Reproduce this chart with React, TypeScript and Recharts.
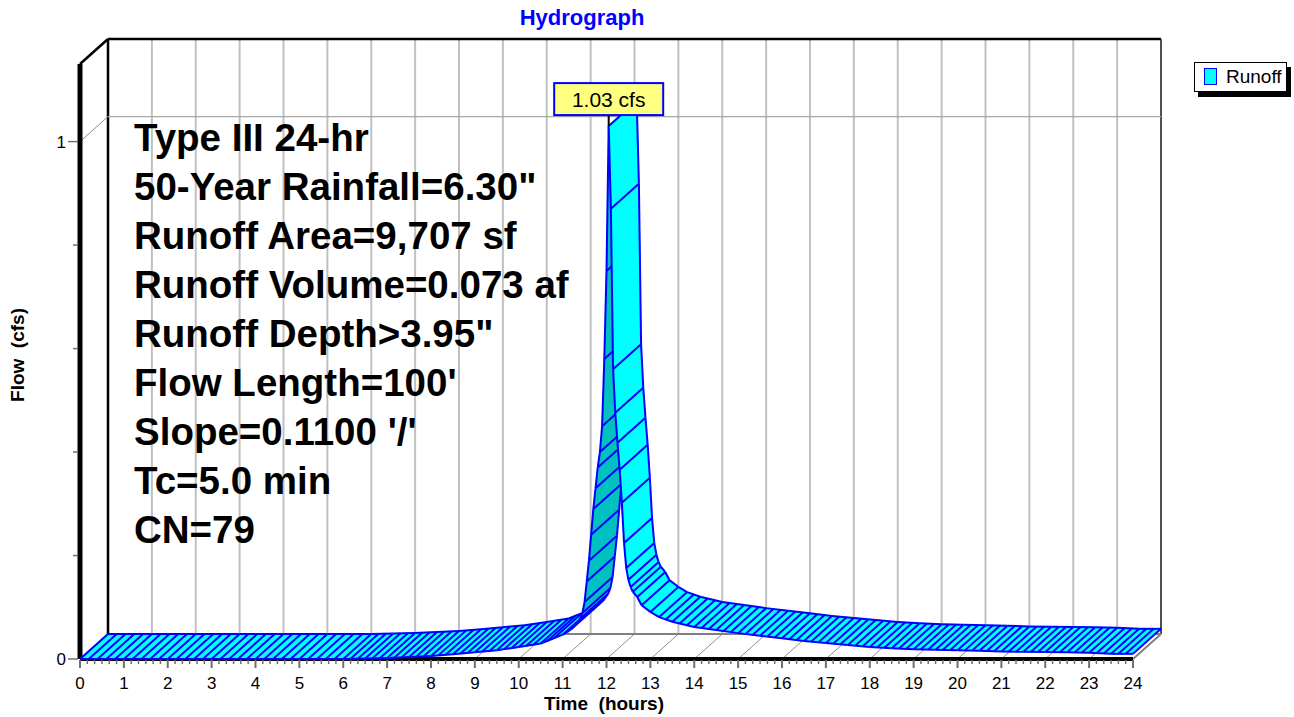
import { ComposedChart, Line, XAxis, YAxis, CartesianGrid } from "recharts"

// Runoff hydrograph (front edge of the ribbon)
const hours = [
  0, 1, 2, 3, 4, 5, 6, 6.5, 7, 7.5, 8, 8.5, 9, 9.5, 10, 10.5, 10.8, 11, 11.1,
  11.2, 11.3, 11.4, 11.45, 11.5, 11.55, 11.6, 11.65, 11.7, 11.75, 11.8, 11.85,
  11.9, 11.95, 12, 12.05, 12.1, 12.15, 12.2, 12.25, 12.3, 12.35, 12.4, 12.45,
  12.5, 12.55, 12.6, 12.7, 12.8, 13, 13.2, 13.5, 14, 14.5, 15, 15.5, 16, 16.5,
  17, 17.5, 18, 18.5, 19, 19.5, 20, 20.5, 21, 21.5, 22, 22.5, 23, 23.5, 24,
]
const flow = [
  0, 0, 0, 0, 0, 0, 0, 0.001, 0.002, 0.004, 0.006, 0.009, 0.013, 0.017, 0.023,
  0.03, 0.04, 0.047, 0.052, 0.058, 0.066, 0.078, 0.089, 0.11, 0.15, 0.19, 0.24,
  0.29, 0.33, 0.37, 0.4, 0.45, 0.58, 0.75, 1.03, 0.87, 0.56, 0.476, 0.418,
  0.366, 0.302, 0.224, 0.176, 0.153, 0.139, 0.13, 0.12, 0.104, 0.091, 0.081,
  0.072, 0.062, 0.056, 0.05, 0.045, 0.04, 0.035, 0.031, 0.027, 0.023, 0.021,
  0.019, 0.018, 0.017, 0.016, 0.0145, 0.0138, 0.0135, 0.013, 0.012, 0.01, 0.01,
]

const majorHours = [
  0, 1, 2, 3, 4, 5, 6, 7, 8, 9, 10, 11, 12, 13, 14, 15, 16, 17, 18, 19, 20, 21,
  22, 23, 24,
]
const minorPerHour = 6
const yTicks = [0, 0.2, 0.4, 0.6, 0.8, 1]
const yLabeled = [0, 1]
const yMax = 1.15

const seriesName = "Runoff"
const peakUnit = "cfs"
const notes = [
  "Type III 24-hr",
  '50-Year Rainfall=6.30"',
  "Runoff Area=9,707 sf",
  "Runoff Volume=0.073 af",
  'Runoff Depth>3.95"',
  "Flow Length=100'",
  "Slope=0.1100 '/'",
  "Tc=5.0 min",
  "CN=79",
]

// 3D depth of the back plane, in pixels
const DX = 28
const DY = -25

const CYAN = "#00FFFF"
const TEAL = "#00C0C0"
const BLUE = "#0000FF"
const FONT = '"Liberation Sans", Arial, sans-serif'

const data = hours.map((h, i) => ({ hour: h, flow: flow[i] }))

const xTicks = majorHours.flatMap((h, i) =>
  i === majorHours.length - 1
    ? [h]
    : Array.from({ length: minorPerHour }, (_, k) => h + k / minorPerHour)
)

const isWhole = (v: number) => Math.abs(v - Math.round(v)) < 1e-6

type Pt = { x: number; y: number }

function renderRibbon(pts: Pt[]) {
  const els: any[] = []
  const conn = (p: Pt, key: string) => (
    <line key={key} x1={p.x} y1={p.y} x2={p.x + DX} y2={p.y + DY} stroke={BLUE} strokeWidth={2} />
  )
  for (let i = 0; i < pts.length - 1; i++) {
    const a = pts[i]
    const b = pts[i + 1]
    // which side of the ribbon faces us
    const cross = (b.x - a.x) * DY - (b.y - a.y) * DX
    const fill = cross > 0 ? TEAL : CYAN
    els.push(
      <polygon
        key={`f${i}`}
        points={`${a.x},${a.y} ${b.x},${b.y} ${b.x + DX},${b.y + DY} ${a.x + DX},${a.y + DY}`}
        fill={fill}
        stroke={fill}
        strokeWidth={0.6}
      />
    )
    els.push(<line key={`a${i}`} x1={a.x} y1={a.y} x2={b.x} y2={b.y} stroke={BLUE} strokeWidth={2} />)
    els.push(
      <line key={`b${i}`} x1={a.x + DX} y1={a.y + DY} x2={b.x + DX} y2={b.y + DY} stroke={BLUE} strokeWidth={2} />
    )
    const n = Math.max(1, Math.round((b.x - a.x) / 8))
    for (let k = 0; k < n; k++) {
      const t = k / n
      els.push(conn({ x: a.x + (b.x - a.x) * t, y: a.y + (b.y - a.y) * t }, `c${i}_${k}`))
    }
  }
  els.push(conn(pts[pts.length - 1], "clast"))
  return els
}

function peakTag(p: Pt) {
  const peak = Math.max(...flow)
  return (
    <g key="peak">
      <line x1={p.x} y1={p.y} x2={p.x} y2={p.y - 11} stroke="#000" strokeWidth={2} />
      <rect x={p.x - 54.5} y={p.y - 43} width={109} height={32} fill="#FFFF80" stroke={BLUE} strokeWidth={2} />
      <text x={p.x} y={p.y - 19.5} textAnchor="middle" fontFamily={FONT} fontSize={21} fill="#000">
        {`${peak.toFixed(2)} ${peakUnit}`}
      </text>
    </g>
  )
}

const collected: Pt[] = []

function RibbonDot(props: any) {
  const { cx, cy, index, points } = props
  collected[index] = { x: cx, y: cy }
  if (index !== data.length - 1) return <g key={`d${index}`} />
  const pts: Pt[] =
    points && points.length === data.length
      ? points.map((p: any) => ({ x: p.x, y: p.y }))
      : collected.slice(0, data.length)
  const peakIdx = flow.indexOf(Math.max(...flow))
  return (
    <g key="ribbon">
      {renderRibbon(pts)}
      {peakTag(pts[peakIdx])}
    </g>
  )
}

function XTick(props: any) {
  const { x, y, payload } = props
  const major = isWhole(payload.value)
  return (
    <g>
      <line x1={x} y1={y + 1} x2={x} y2={y + (major ? 9 : 5)} stroke="#707070" strokeWidth={major ? 2 : 1.5} />
      {major && (
        <text x={x} y={y + 30} textAnchor="middle" fontFamily={FONT} fontSize={17} fill="#000">
          {Math.round(payload.value)}
        </text>
      )}
    </g>
  )
}

function YTick(props: any) {
  const { x, y, payload } = props
  const labeled = yLabeled.includes(payload.value)
  return (
    <g>
      <line x1={x - (labeled ? 12 : 7)} y1={y} x2={x - 2} y2={y} stroke="#707070" strokeWidth={1.5} />
      {labeled && (
        <text x={x - 14} y={y} dy="0.36em" textAnchor="end" fontFamily={FONT} fontSize={17} fill="#000">
          {payload.value}
        </text>
      )}
    </g>
  )
}

const backV = (props: any) => {
  const { x1, y1, x2, y2 } = props
  return (
    <g>
      <line x1={x1 + DX} y1={y1 + DY} x2={x2 + DX} y2={y2 + DY} stroke="#C0C0C0" strokeWidth={2} />
      <line x1={x2} y1={y2} x2={x2 + DX} y2={y2 + DY} stroke="#909090" strokeWidth={1} />
    </g>
  )
}
const backLeft = (props: any) => {
  const { x1, y1, x2, y2 } = props
  return <line x1={x1 + DX} y1={y1 + DY} x2={x2 + DX} y2={y2 + DY} stroke="#000" strokeWidth={2.5} />
}
const backRight = (props: any) => {
  const { x1, y1, x2, y2 } = props
  return (
    <g>
      <line x1={x1 + DX} y1={y1 + DY} x2={x2 + DX} y2={y2 + DY} stroke="#505050" strokeWidth={2} />
      <line x1={x2} y1={y2} x2={x2 + DX} y2={y2 + DY} stroke="#808080" strokeWidth={2} />
    </g>
  )
}
const backH = (props: any) => {
  const { x1, y1, x2, y2 } = props
  return (
    <g>
      <line x1={x1 + DX} y1={y1 + DY} x2={x2 + DX} y2={y2 + DY} stroke="#A8A8A8" strokeWidth={1.2} />
      <line x1={x1} y1={y1} x2={x1 + DX} y2={y1 + DY} stroke="#909090" strokeWidth={1} />
    </g>
  )
}
const backFloor = (props: any) => {
  const { x1, y1, x2, y2 } = props
  return <line x1={x1 + DX} y1={y1 + DY} x2={x2 + DX} y2={y2 + DY} stroke="#808080" strokeWidth={2} />
}
const backTop = (props: any) => {
  const { x1, y1, x2, y2 } = props
  return (
    <g>
      <line x1={x1 + DX} y1={y1 + DY} x2={x2 + DX} y2={y2 + DY} stroke="#000" strokeWidth={2.5} />
      <line x1={x1} y1={y1} x2={x1 + DX} y2={y1 + DY} stroke="#000" strokeWidth={2.5} />
    </g>
  )
}

export default function App() {
  return (
    <div
      style={{
        position: "absolute",
        left: 0,
        top: 0,
        width: 1294,
        height: 717,
        background: "#fff",
        fontFamily: FONT,
      }}
    >
      <ComposedChart
        width={1294}
        height={717}
        data={data}
        margin={{ top: 64, right: 161, bottom: 0, left: 0 }}
      >
        <CartesianGrid horizontal={false} verticalValues={majorHours.slice(1, -1)} vertical={backV} />
        <CartesianGrid horizontal={false} verticalValues={[majorHours[0]]} vertical={backLeft} />
        <CartesianGrid horizontal={false} verticalValues={[majorHours[majorHours.length - 1]]} vertical={backRight} />
        <CartesianGrid vertical={false} horizontalValues={[1]} horizontal={backH} />
        <CartesianGrid vertical={false} horizontalValues={[0]} horizontal={backFloor} />
        <CartesianGrid vertical={false} horizontalValues={[yMax]} horizontal={backTop} />
        <XAxis
          dataKey="hour"
          type="number"
          domain={[0, 24]}
          ticks={xTicks}
          interval={0}
          height={58}
          tickSize={0}
          tickMargin={0}
          tickLine={false}
          axisLine={{ stroke: "#000", strokeWidth: 4 }}
          tick={<XTick />}
        />
        <YAxis
          type="number"
          domain={[0, yMax]}
          ticks={yTicks}
          interval={0}
          width={80}
          tickSize={0}
          tickMargin={0}
          tickLine={false}
          axisLine={{ stroke: "#000", strokeWidth: 5 }}
          tick={<YTick />}
        />
        <Line
          dataKey="flow"
          name={seriesName}
          stroke="transparent"
          strokeWidth={0}
          dot={RibbonDot}
          activeDot={false}
          isAnimationActive={false}
        />
      </ComposedChart>

      <div
        style={{
          position: "absolute",
          left: 582,
          top: 18,
          transform: "translate(-50%, -50%)",
          color: BLUE,
          fontWeight: "bold",
          fontSize: 22,
          whiteSpace: "nowrap",
        }}
      >
        Hydrograph
      </div>
      <div
        style={{
          position: "absolute",
          left: 604,
          top: 704,
          transform: "translate(-50%, -50%)",
          fontWeight: "bold",
          fontSize: 19,
          whiteSpace: "pre",
        }}
      >
        {"Time  (hours)"}
      </div>
      <div
        style={{
          position: "absolute",
          left: 18,
          top: 355,
          transform: "translate(-50%, -50%) rotate(-90deg)",
          fontWeight: "bold",
          fontSize: 19,
          whiteSpace: "pre",
        }}
      >
        {"Flow  (cfs)"}
      </div>

      <div
        style={{
          position: "absolute",
          left: 134,
          top: 113,
          fontWeight: "bold",
          fontSize: 38.5,
          lineHeight: "49px",
          color: "#000",
          whiteSpace: "nowrap",
        }}
      >
        {notes.map((n) => (
          <div key={n}>{n}</div>
        ))}
      </div>

      <div
        style={{
          position: "absolute",
          left: 1194,
          top: 62,
          width: 91,
          height: 28,
          border: "1px solid #000",
          background: "#fff",
          boxShadow: "4px 5px 0 #000",
        }}
      >
        <div
          style={{
            position: "absolute",
            left: 9,
            top: 5,
            width: 11,
            height: 15,
            background: CYAN,
            border: `1.5px solid ${BLUE}`,
          }}
        />
        <div style={{ position: "absolute", left: 31, top: 3, fontSize: 19, lineHeight: "22px" }}>
          {seriesName}
        </div>
      </div>
    </div>
  )
}
